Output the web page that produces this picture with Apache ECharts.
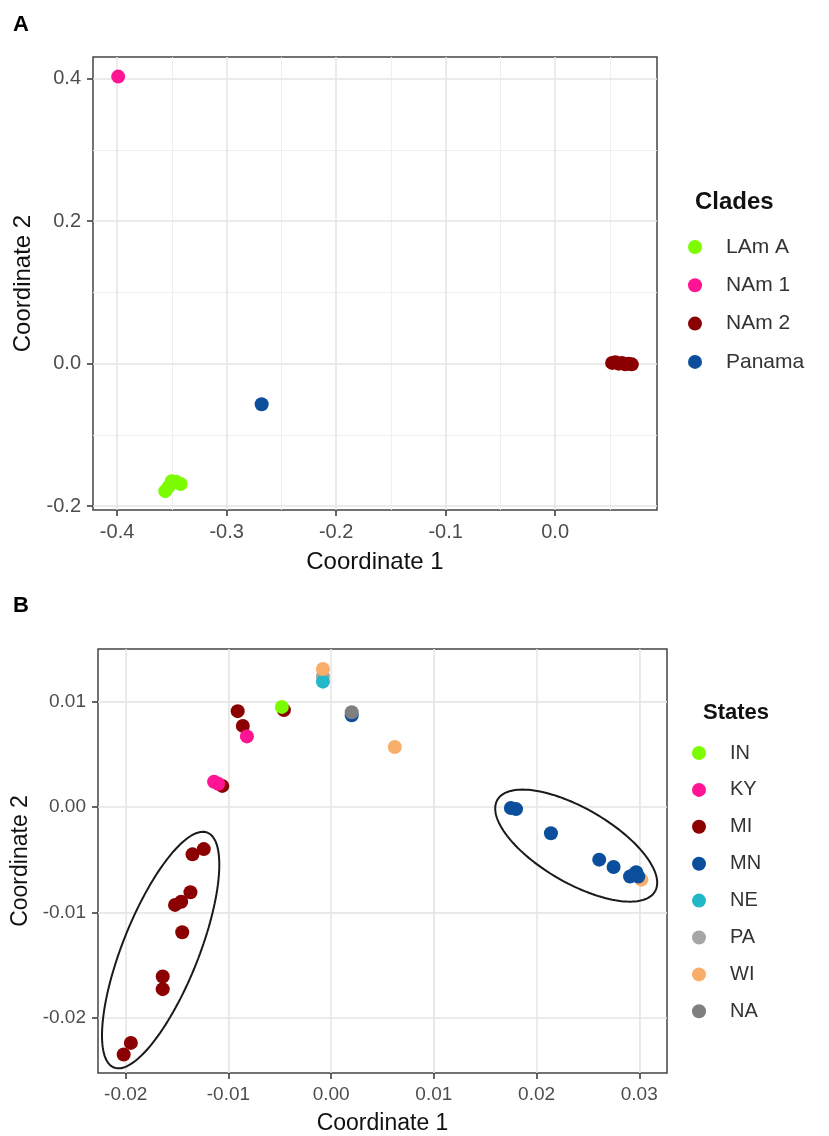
<!DOCTYPE html>
<html><head><meta charset="utf-8">
<script src="https://cdn.jsdelivr.net/npm/echarts@6/dist/echarts.min.js"></script>
<style>html,body{margin:0;padding:0;background:#fff}#c{width:829px;height:1136px}</style>
</head><body><div id="c"></div>
<script>
// ---------- Panel A: Clades ----------
const cladeNames = ['LAm A', 'NAm 1', 'NAm 2', 'Panama'];
const cladeColors = ['#7CFC00', '#FF1493', '#8B0000', '#0B4F9C'];
const lamA   = [[-0.356,-0.179],[-0.353,-0.173],[-0.350,-0.165],[-0.346,-0.166],[-0.342,-0.169]];
const nam1   = [[-0.399,0.403]];
const nam2   = [[0.052,0.001],[0.055,0.002],[0.058,0.000],[0.061,0.001],[0.064,-0.001],[0.067,0.000],[0.070,-0.001]];
const panama = [[-0.268,-0.057]];
const aXTicks = [-0.4,-0.3,-0.2,-0.1,0.0];
const aYTicks = [-0.2,0.0,0.2,0.4];
const aXMinor = [-0.35,-0.25,-0.15,-0.05,0.05];
const aYMinor = [-0.1,0.1,0.3];
const aXRange = [-0.422, 0.093];
const aYRange = [-0.2055, 0.4305];

// ---------- Panel B: States ----------
const stateNames  = ['IN','KY','MI','MN','NE','PA','WI','NA'];
const stateColors = {IN:'#7CFC00', KY:'#FF1493', MI:'#8B0000', MN:'#0B4F9C', NE:'#22B8C8', PA:'#A6A6A6', WI:'#F9AD6A', NA:'#7F7F7F'};
const stIN = [[-0.0048,0.0095]];
const stKY = [[-0.0114,0.0024],[-0.0110,0.0022],[-0.0082,0.0067]];
const stMI = [[-0.0091,0.0091],[-0.0086,0.0077],[-0.0106,0.0020],[-0.0046,0.0092],
              [-0.0135,-0.0045],[-0.0124,-0.0040],[-0.0152,-0.0093],[-0.0146,-0.0090],[-0.0137,-0.0081],
              [-0.0145,-0.0119],[-0.0164,-0.0161],[-0.0164,-0.0173],[-0.0195,-0.0224],[-0.0202,-0.0235]];
const stMN = [[0.0020,0.0087],[0.0175,-0.0001],[0.0180,-0.0002],[0.0214,-0.0025],[0.0261,-0.0050],
              [0.0275,-0.0057],[0.0291,-0.0066],[0.0297,-0.0062],[0.0299,-0.0066],[0.0295,-0.0064]];
const stNE = [[-0.0008,0.0119]];
const stPA = [[-0.0008,0.0124]];
const stWI = [[-0.0008,0.0131],[0.0062,0.0057],[0.0302,-0.0069]];
const stNA = [[0.0020,0.0090]];
const bXTicks = [-0.02,-0.01,0.00,0.01,0.02,0.03];
const bYTicks = [-0.02,-0.01,0.00,0.01];
const bXMinor = [-0.015,-0.005,0.005,0.015,0.025];
const bYMinor = [-0.015,-0.005,0.005];
const bXRange = [-0.0227, 0.0327];
const bYRange = [-0.02526, 0.0150];

// ellipse annotations (centre, major half-axis vector, minor half-axis vector) in data units
const ellipseMI = [[-0.01660,-0.01359],[0.004550,0.011157],[0.00345,-0.00131]];
const ellipseMN = [[0.02386,-0.00367],[0.007668,-0.004364],[-0.001853,-0.003040]];

function ellipsePath(e){
  const c=e[0], a=e[1], b=e[2], pts=[];
  for(let i=0;i<=144;i++){
    const t=2*Math.PI*i/144;
    pts.push([c[0]+Math.cos(t)*a[0]+Math.sin(t)*b[0], c[1]+Math.cos(t)*a[1]+Math.sin(t)*b[1]]);
  }
  return pts;
}

const FONT = '"Liberation Sans", Arial, sans-serif';
const MAJ = {color:'#e4e4e4', width:1.5, type:'solid'};
const MIN = {color:'#efefef', width:1, type:'solid'};

function gridLines(gi, xMaj, xMin, yMaj, yMin){
  const d=[];
  xMin.forEach(v=>d.push({xAxis:v, lineStyle:MIN}));
  yMin.forEach(v=>d.push({yAxis:v, lineStyle:MIN}));
  xMaj.forEach(v=>d.push({xAxis:v, lineStyle:MAJ}));
  yMaj.forEach(v=>d.push({yAxis:v, lineStyle:MAJ}));
  return {type:'scatter', xAxisIndex:gi, yAxisIndex:gi, data:[], z:0, silent:true,
    markLine:{silent:true, z:0, zlevel:0, symbol:['none','none'], label:{show:false}, animation:false, data:d}};
}

function axisDef(gi, range, ticks, dec, fs, name, nfs, gap){
  return {gridIndex:gi, type:'value', min:range[0], max:range[1],
    axisLine:{show:false, onZero:false},
    axisTick:{show:true, inside:false, length:6, customValues:ticks, lineStyle:{color:'#333', width:1.5}},
    axisLabel:{customValues:ticks, margin:12, fontSize:fs, color:'#4d4d4d', fontFamily:FONT,
      formatter:v=>Number(v).toFixed(dec)},
    splitLine:{show:false},
    name:name, nameLocation:'middle', nameGap:gap,
    nameTextStyle:{fontSize:nfs, color:'#111', fontFamily:FONT}};
}

function sc(name, data, color, gi){
  return {name:name, type:'scatter', xAxisIndex:gi, yAxisIndex:gi, data:data,
    symbol:'circle', symbolSize:14, itemStyle:{color:color, opacity:1}, z:2};
}
function ell(name, e){
  return {name:name, type:'line', xAxisIndex:1, yAxisIndex:1, data:ellipsePath(e),
    showSymbol:false, symbol:'none', smooth:false, silent:true, z:4,
    lineStyle:{color:'#1a1a1a', width:2}};
}

const chart = echarts.init(document.getElementById('c'), null, {renderer:'canvas'});
chart.setOption({
  animation:false,
  backgroundColor:'#fff',
  title:[
    {text:'A', left:13, top:14, padding:0, textStyle:{fontSize:22, fontWeight:'bold', color:'#000', fontFamily:FONT}},
    {text:'B', left:13, top:595, padding:0, textStyle:{fontSize:22, fontWeight:'bold', color:'#000', fontFamily:FONT}},
    {text:'Clades', left:695, top:190, padding:0, textStyle:{fontSize:24, fontWeight:'bold', color:'#111', fontFamily:FONT}},
    {text:'States', left:703, top:702, padding:0, textStyle:{fontSize:22, fontWeight:'bold', color:'#111', fontFamily:FONT}}
  ],
  legend:[
    {data:cladeNames, orient:'vertical', left:688, top:235, padding:0, itemGap:14.3,
     itemWidth:52, itemHeight:14, icon:'circle',
     textStyle:{fontSize:21, lineHeight:24, color:'#333', fontFamily:FONT}},
    {data:stateNames, orient:'vertical', left:692, top:742, padding:0, itemGap:14.9,
     itemWidth:52, itemHeight:14, icon:'circle',
     textStyle:{fontSize:20, lineHeight:22, color:'#333', fontFamily:FONT}}
  ],
  grid:[
    {left:93, top:57, width:564, height:453, show:true, borderColor:'#444', borderWidth:1.5, backgroundColor:'#fff'},
    {left:98, top:649, width:569, height:428, show:true, borderColor:'#444', borderWidth:1.5, backgroundColor:'#fff'}
  ],
  xAxis:[
    axisDef(0, aXRange, aXTicks, 1, 20, 'Coordinate 1', 24, 40),
    axisDef(1, bXRange, bXTicks, 2, 19, 'Coordinate 1', 23, 39)
  ],
  yAxis:[
    axisDef(0, aYRange, aYTicks, 1, 20, 'Coordinate 2', 24, 52),
    axisDef(1, bYRange, bYTicks, 2, 19, 'Coordinate 2', 23, 53)
  ],
  series:[
    gridLines(0, aXTicks, aXMinor, aYTicks, aYMinor),
    gridLines(1, bXTicks, bXMinor, bYTicks, bYMinor),
    sc('LAm A', lamA, cladeColors[0], 0),
    sc('NAm 1', nam1, cladeColors[1], 0),
    sc('NAm 2', nam2, cladeColors[2], 0),
    sc('Panama', panama, cladeColors[3], 0),
    sc('PA', stPA, stateColors.PA, 1),
    sc('NE', stNE, stateColors.NE, 1),
    sc('WI', stWI, stateColors.WI, 1),
    sc('MI', stMI, stateColors.MI, 1),
    sc('MN', stMN, stateColors.MN, 1),
    sc('NA', stNA, stateColors.NA, 1),
    sc('KY', stKY, stateColors.KY, 1),
    sc('IN', stIN, stateColors.IN, 1),
    ell('ellipse MI', ellipseMI),
    ell('ellipse MN', ellipseMN)
  ]
});
</script></body></html>
